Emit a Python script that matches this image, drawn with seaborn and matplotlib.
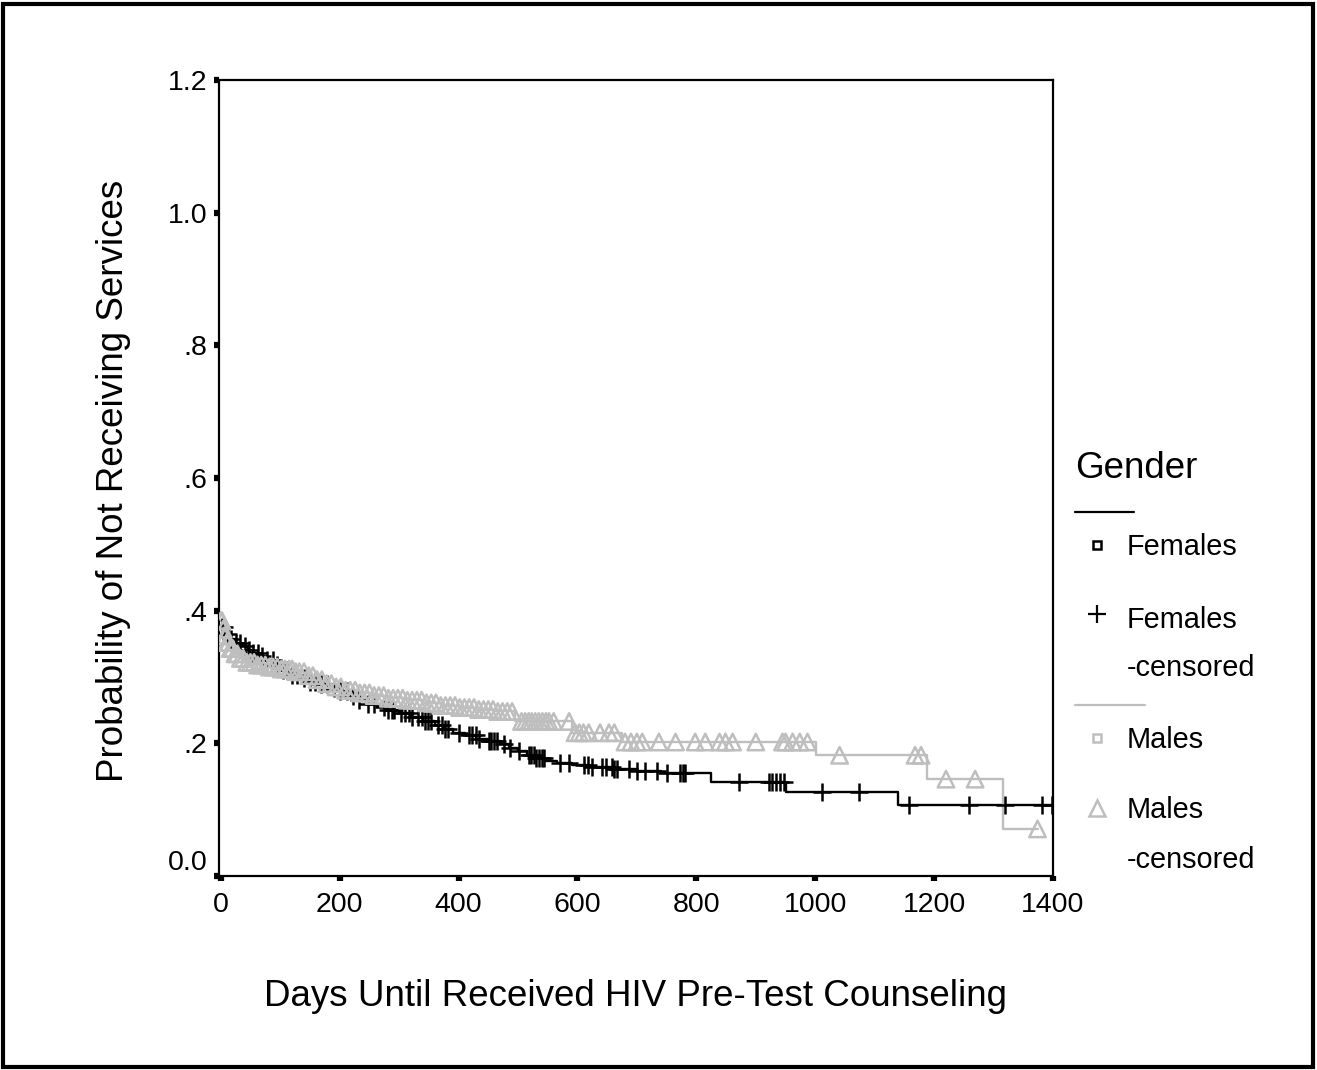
"""
Kaplan-Meier: days until HIV pre-test counseling, by gender
"""

import numpy as np
import pandas as pd
import matplotlib
matplotlib.use('Agg')
import matplotlib.pyplot as plt
from matplotlib.lines import Line2D
from matplotlib.patches import Rectangle
import seaborn as sns

sns.set_style('white')
plt.rcParams['font.family'] = ['Liberation Sans', 'DejaVu Sans']
plt.rcParams['text.color'] = 'black'
plt.rcParams['axes.labelcolor'] = 'black'

# step points (day, survival after the drop)
female_days = [0, 8, 16, 25, 35, 45, 55, 65, 78, 90, 102, 115, 130, 145, 160, 180,
               200, 215, 230, 245, 262, 280, 300, 320, 340, 360, 375, 390, 410,
               430, 450, 470, 485, 500, 515, 530, 545, 565, 590, 620, 660, 700,
               740, 824, 950, 1139]
female_surv = [.375, .365, .358, .352, .347, .341, .336, .332, .326, .318, .310,
               .303, .298, .293, .289, .284, .279, .272, .265, .260, .255, .250,
               .245, .240, .234, .228, .222, .216, .212, .207, .203, .199, .193,
               .188, .183, .178, .174, .170, .167, .164, .161, .158, .155, .142,
               .127, .107]
female_censored = [2, 5, 12, 18, 25, 33, 40, 48, 55, 63, 70, 78, 88, 95, 105, 112,
                   120, 128, 140, 150, 158, 168, 178, 190, 200, 212, 222, 233, 248,
                   258, 275, 282, 288, 292, 304, 310, 316, 321, 332, 338, 344, 349,
                   354, 366, 372, 378, 383, 400, 417, 423, 429, 434, 451, 455, 460,
                   465, 476, 486, 501, 518, 522, 527, 531, 536, 540, 543, 570, 585,
                   611, 618, 624, 641, 648, 658, 662, 667, 687, 700, 714, 734, 751,
                   773, 777, 781, 871, 923, 928, 934, 940, 948, 1011, 1073, 1158,
                   1259, 1320, 1382, 1398]

male_days = [0, 3, 6, 10, 15, 22, 30, 42, 60, 80, 100, 125, 145, 160, 175, 190,
             210, 230, 255, 280, 310, 340, 370, 400, 430, 460, 495, 591, 675,
             1001, 1188, 1316]
male_surv = [.385, .372, .362, .352, .343, .335, .328, .322, .318, .315, .312,
             .308, .302, .296, .290, .285, .280, .276, .272, .268, .265, .261,
             .257, .254, .251, .248, .233, .216, .202, .182, .146, .071]
male_censored = [0, 2, 4, 6, 8, 10, 13, 16, 20, 24, 28, 33, 38, 44, 50, 56, 62, 68,
                 75, 82, 88, 95, 102, 108, 115, 120, 126, 132, 140, 148, 155, 162,
                 170, 178, 186, 194, 202, 210, 218, 226, 234, 242, 250, 258, 266,
                 274, 282, 290, 298, 306, 314, 322, 330, 338, 346, 354, 362, 370,
                 378, 386, 394, 402, 410, 418, 426, 434, 442, 450, 458, 466, 474,
                 482, 490, 506, 512, 518, 523, 529, 535, 541, 547, 552, 560, 586,
                 596, 603, 610, 619, 638, 653, 662, 680, 690, 700, 709, 737, 765,
                 798, 815, 839, 849, 861, 900, 945, 950, 962, 974, 987, 1041, 1168,
                 1178, 1220, 1269, 1374]

x_ticks = [0, 200, 400, 600, 800, 1000, 1200, 1400]
y_ticks = [0.0, 0.2, 0.4, 0.6, 0.8, 1.0, 1.2]
y_tick_labels = ['0.0', '.2', '.4', '.6', '.8', '1.0', '1.2']

BLACK = '#000000'
GRAY = '#bebebe'
W, H = 1317, 1070


def km_frames(days, surv, censored):
    """step line + censor marks sitting on the step value"""
    end = max(censored[-1], days[-1])
    line = pd.DataFrame({'day': list(days) + [end], 'surv': list(surv) + [surv[-1]]})
    idx = np.searchsorted(days, censored, side='right') - 1
    marks = pd.DataFrame({'day': censored, 'surv': np.asarray(surv)[idx]})
    return line, marks


f_line, f_marks = km_frames(female_days, female_surv, female_censored)
m_line, m_marks = km_frames(male_days, male_surv, male_censored)

fig = plt.figure(figsize=(W / 100, H / 100), dpi=100)
ax = fig.add_axes([219 / W, 1 - 876 / H, (1053 - 219) / W, (876 - 80) / H])

# females
sns.lineplot(data=f_line, x='day', y='surv', drawstyle='steps-post', color=BLACK,
             lw=1.7, estimator=None, sort=False, ax=ax)
sns.scatterplot(data=f_marks, x='day', y='surv', marker='+', s=170, color=BLACK,
                linewidth=1.8, ax=ax, zorder=3)
# males
sns.lineplot(data=m_line, x='day', y='surv', drawstyle='steps-post', color=GRAY,
             lw=1.7, estimator=None, sort=False, ax=ax)
sns.scatterplot(data=m_marks, x='day', y='surv', marker='^', s=140, color=GRAY,
                facecolor='none', edgecolor=GRAY, linewidth=1.8, ax=ax, zorder=4)

ax.set_xlim(-3, 1400)
ax.set_ylim(0, 1.2)
ax.set_xticks(x_ticks)
ax.set_xticklabels([str(t) for t in x_ticks])
ax.set_yticks(y_ticks)
ax.set_yticklabels(y_tick_labels)
ax.get_yticklabels()[0].set_va('bottom')
ax.tick_params(axis='both', direction='out', length=3.5, width=4.5, color=BLACK,
               labelsize=20.5, labelcolor=BLACK, bottom=True, left=True)
ax.tick_params(axis='x', pad=8)
ax.tick_params(axis='y', pad=5)
for sp in ax.spines.values():
    sp.set_visible(True)
    sp.set_color(BLACK)
    sp.set_linewidth(1.6)

ax.set_xlabel('Days Until Received HIV Pre-Test Counseling', fontsize=26.5, va='center')
ax.set_ylabel('Probability of Not Receiving Services', fontsize=26.5, va='center')
ax.xaxis.set_label_coords(0.5, -0.152)
ax.yaxis.set_label_coords(-0.127, 0.496)


# legend drawn by hand (SPSS style with separator lines)
def fx(px):
    return px / W


def fy(py):
    return 1 - py / H


fig.text(fx(1075), fy(468), 'Gender', fontsize=26.5, va='center', ha='left')
fig.add_artist(Line2D([fx(1075), fx(1134)], [fy(512), fy(512)], color=BLACK, lw=1.6))
fig.add_artist(Line2D([fx(1097)], [fy(545)], marker='s', ms=6, mfc='none', mec=BLACK,
                      mew=1.8, ls='none'))
fig.text(fx(1127), fy(547), 'Females', fontsize=20.8, va='center')
fig.add_artist(Line2D([fx(1097)], [fy(614)], marker='+', ms=13, color=BLACK,
                      mew=1.6, ls='none'))
fig.text(fx(1127), fy(620), 'Females', fontsize=20.8, va='center')
fig.text(fx(1127), fy(668), '-censored', fontsize=20.8, va='center')
fig.add_artist(Line2D([fx(1075), fx(1145)], [fy(705), fy(705)], color=GRAY, lw=1.6))
fig.add_artist(Line2D([fx(1097)], [fy(738)], marker='s', ms=6, mfc='none', mec=GRAY,
                      mew=1.8, ls='none'))
fig.text(fx(1127), fy(740), 'Males', fontsize=20.8, va='center')
fig.add_artist(Line2D([fx(1097)], [fy(808)], marker='^', ms=11, mfc='none', mec=GRAY,
                      mew=1.8, ls='none'))
fig.text(fx(1127), fy(810), 'Males', fontsize=20.8, va='center')
fig.text(fx(1127), fy(860), '-censored', fontsize=20.8, va='center')

# outer frame
fig.patches.append(Rectangle((3 / W, 3 / H), 1 - 7 / W, 1 - 7 / H, transform=fig.transFigure,
                             fill=False, edgecolor=BLACK, lw=3))

fig.savefig('out.png', dpi=100)
